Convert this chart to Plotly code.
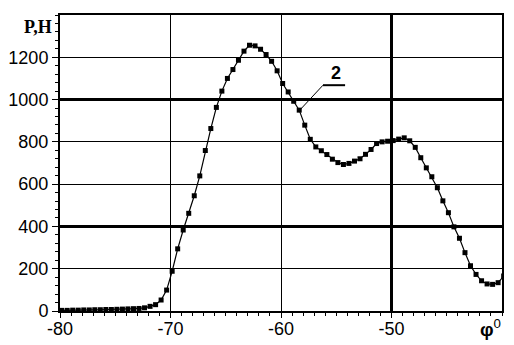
import plotly.graph_objects as go

phi = [-79.85, -79.35, -78.85, -78.35, -77.85, -77.35, -76.85, -76.35, -75.85, -75.35,
       -74.85, -74.35, -73.85, -73.35, -72.85, -72.35, -71.85, -71.35, -70.85, -70.35,
       -69.85, -69.35, -68.85, -68.35, -67.85, -67.35, -66.85, -66.35, -65.85, -65.35,
       -64.85, -64.35, -63.85, -63.35, -62.85, -62.35, -61.85, -61.35, -60.85, -60.35,
       -59.85, -59.35, -58.85, -58.35, -57.85, -57.35, -56.85, -56.35, -55.85, -55.35,
       -54.85, -54.35, -53.85, -53.35, -52.85, -52.35, -51.85, -51.35, -50.85, -50.35,
       -49.85, -49.35, -48.85, -48.35, -47.85, -47.35, -46.85, -46.35, -45.85, -45.35,
       -44.85, -44.35, -43.85, -43.35, -42.85, -42.35, -41.85, -41.35, -40.85, -40.35,
       -39.85]
force = [3, 3, 4, 4, 5, 5, 6, 6, 7, 7,
         8, 9, 10, 11, 12, 15, 22, 30, 52, 99,
         188, 294, 383, 462, 545, 639, 759, 863, 963, 1040,
         1100, 1142, 1186, 1229, 1257, 1254, 1238, 1213, 1181, 1136,
         1076, 1036, 992, 950, 879, 812, 776, 758, 740, 718,
         702, 693, 698, 709, 720, 741, 764, 792, 800, 803,
         806, 813, 819, 805, 774, 725, 677, 635, 583, 521,
         465, 398, 344, 276, 214, 173, 143, 128, 126, 134,
         165]

x_ticks = [-80, -70, -60, -50]
y_ticks = [0, 200, 400, 600, 800, 1000, 1200]
thick_x = [-50]
thick_y = [400, 1000]

fig = go.Figure()
fig.add_trace(go.Scatter(
    x=phi, y=force, mode="lines+markers",
    line=dict(color="black", width=1.2),
    marker=dict(symbol="square", size=5, color="black"),
    showlegend=False,
))

shapes = []
for xv in thick_x:
    shapes.append(dict(type="line", xref="x", yref="paper", x0=xv, x1=xv, y0=0, y1=1,
                       line=dict(color="black", width=3), layer="below"))
for yv in thick_y:
    shapes.append(dict(type="line", xref="paper", yref="y", x0=0, x1=1, y0=yv, y1=yv,
                       line=dict(color="black", width=3), layer="below"))
# label "2" leader
shapes.append(dict(type="line", xref="x", yref="y", x0=-58.3, y0=950, x1=-56.2, y1=1068,
                   line=dict(color="black", width=1)))
shapes.append(dict(type="line", xref="x", yref="y", x0=-56.2, y0=1068, x1=-54.2, y1=1068,
                   line=dict(color="black", width=2)))

# page body has an 8px default margin, so the figure is sized to fit the 514x345 window
fig.update_layout(
    width=506, height=337,
    margin=dict(l=52, r=12, t=7, b=34, autoexpand=False),
    paper_bgcolor="white", plot_bgcolor="white",
    font=dict(family="Liberation Sans, Arial, sans-serif", size=18, color="black"),
    shapes=shapes,
    annotations=[
        dict(text="<b>P,H</b>", xref="paper", x=0, xanchor="right", xshift=-6,
             yref="y", y=1345, yanchor="middle", showarrow=False,
             font=dict(family="Liberation Serif, Times New Roman, serif", size=18, color="black")),
        dict(text="<b>φ</b><sup>0</sup>", xref="x", x=-40, xanchor="right", xshift=1,
             yref="paper", y=0, yanchor="top", yshift=-3, showarrow=False,
             font=dict(family="Liberation Sans, Arial, sans-serif", size=19, color="black")),
        dict(text="<b>2</b>", xref="x", y=1068, x=-55.0, yref="y", yanchor="bottom",
             xanchor="center", showarrow=False,
             font=dict(family="Liberation Sans, Arial, sans-serif", size=18, color="black")),
    ],
)
fig.update_xaxes(
    range=[-80, -40], tickvals=x_ticks, ticktext=[str(v) for v in x_ticks],
    automargin=False, ticklabelstandoff=-5,
    showline=True, linecolor="black", linewidth=2, mirror=True,
    showgrid=True, gridcolor="black", gridwidth=1,
    ticks="outside", ticklen=5, tickcolor="black", tickwidth=1,
    minor=dict(dtick=1, ticks="outside", ticklen=3, tickcolor="black", showgrid=False),
    zeroline=False,
)
fig.update_yaxes(
    range=[0, 1400], tickvals=y_ticks, ticktext=[str(v) for v in y_ticks],
    automargin=False,
    showline=True, linecolor="black", linewidth=2, mirror=True,
    showgrid=True, gridcolor="black", gridwidth=1,
    ticks="outside", ticklen=6, tickcolor="black", tickwidth=1,
    minor=dict(dtick=40, ticks="outside", ticklen=3, tickcolor="black", showgrid=False),
    zeroline=False,
)

fig.write_html("out.html")
